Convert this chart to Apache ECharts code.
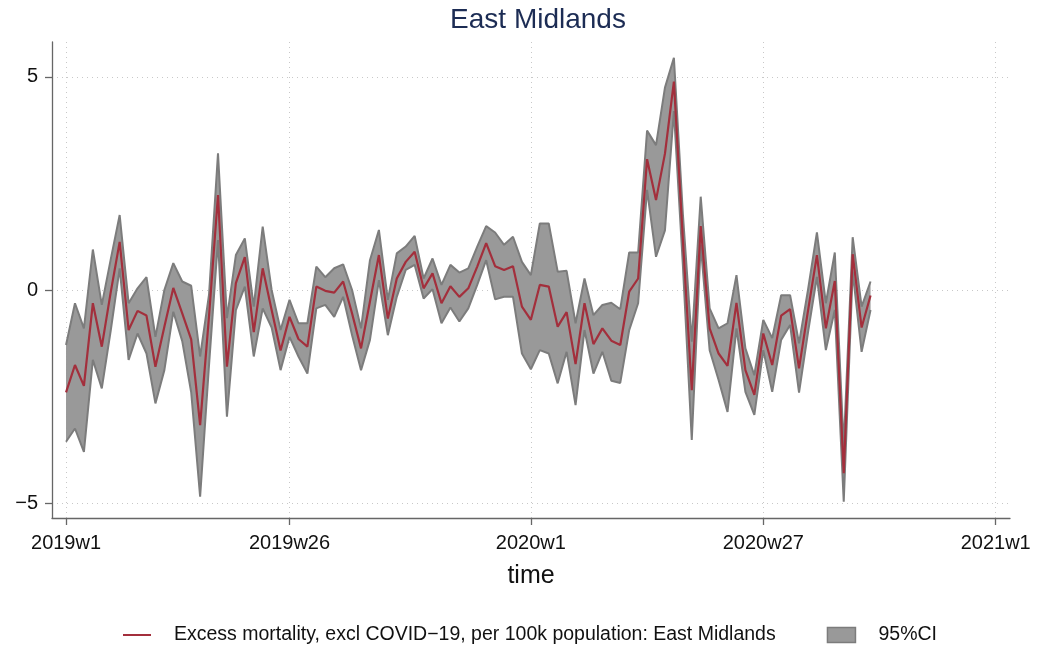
<!DOCTYPE html>
<html>
<head>
<meta charset="utf-8">
<script src="https://cdn.jsdelivr.net/npm/echarts@6/dist/echarts.min.js"></script>
<style>
html,body{margin:0;padding:0;background:#fff;}
#chart{width:1038px;height:646px;}
</style>
</head>
<body>
<div id="chart"></div>
<script>
// Week labels of the x axis (Stata weekly index: 0 = 2019w1, 52 weeks per year)
const tickWeeks = [0, 25, 52, 78, 104];
const tickLabels = ['2019w1', '2019w26', '2020w1', '2020w27', '2021w1'];
const yTicks = [-5, 0, 5];

// Excess mortality, excl COVID-19, per 100k population: East Midlands (2019w1 .. 2020w39)
const excess = [
  -2.40, -1.76, -2.25, -0.31, -1.33, -0.05, 1.13, -0.94, -0.49, -0.60,
  -1.80, -0.86, 0.05, -0.55, -1.16, -3.17, -0.60, 2.23, -1.80, 0.16,
  0.77, -0.99, 0.51, -0.47, -1.42, -0.63, -1.15, -1.33, 0.08, -0.02,
  -0.06, 0.20, -0.55, -1.37, -0.27, 0.82, -0.67, 0.27, 0.66, 0.90,
  0.04, 0.39, -0.31, 0.09, -0.16, 0.04, 0.55, 1.10, 0.56, 0.47,
  0.56, -0.39, -0.70, 0.12, 0.08, -0.86, -0.52, -1.74, -0.31, -1.27,
  -0.90, -1.19, -1.29, -0.04, 0.27, 3.07, 2.11, 3.20, 4.89, 1.20,
  -2.35, 1.50, -0.90, -1.49, -1.78, -0.30, -1.88, -2.46, -1.02, -1.76,
  -0.60, -0.45, -1.84, -0.49, 0.82, -0.90, 0.21, -4.30, 0.84, -0.88,
  -0.13
];
// 95% CI lower bound
const lower = [
  -3.56, -3.25, -3.80, -1.64, -2.31, -0.95, 0.51, -1.64, -1.02, -1.49,
  -2.66, -1.88, -0.51, -1.20, -2.40, -4.85, -1.75, 1.17, -2.97, -0.47,
  0.08, -1.56, -0.43, -0.88, -1.88, -1.10, -1.56, -1.96, -0.43, -0.35,
  -0.63, -0.16, -1.06, -1.88, -1.17, 0.23, -1.06, -0.16, 0.47, 0.59,
  -0.20, 0.02, -0.78, -0.41, -0.74, -0.43, 0.12, 0.70, -0.22, -0.16,
  -0.16, -1.49, -1.86, -1.41, -1.49, -2.19, -1.45, -2.70, -0.94, -1.96,
  -1.45, -2.13, -2.18, -0.94, -0.31, 2.35, 0.78, 1.40, 4.20, 0.60,
  -3.52, 1.06, -1.41, -2.11, -2.86, -0.90, -2.39, -2.93, -1.41, -2.39,
  -1.17, -0.82, -2.41, -1.00, 0.31, -1.41, -0.47, -4.97, 0.43, -1.45,
  -0.47
];
// 95% CI upper bound
const upper = [
  -1.29, -0.31, -0.90, 0.95, -0.35, 0.72, 1.76, -0.31, 0.04, 0.30,
  -1.10, 0.00, 0.63, 0.20, 0.10, -1.56, -0.10, 3.21, -0.66, 0.82,
  1.21, -0.39, 1.49, 0.00, -0.94, -0.23, -0.78, -0.78, 0.55, 0.30,
  0.51, 0.60, 0.00, -0.90, 0.70, 1.41, -0.23, 0.86, 1.02, 1.27,
  0.27, 0.74, 0.12, 0.59, 0.41, 0.51, 1.02, 1.50, 1.35, 1.06,
  1.25, 0.66, 0.35, 1.56, 1.56, 0.43, 0.45, -0.78, 0.27, -0.59,
  -0.35, -0.30, -0.45, 0.88, 0.88, 3.74, 3.40, 4.75, 5.45, 1.80,
  -1.21, 2.19, -0.43, -0.90, -0.78, 0.35, -1.37, -2.00, -0.70, -1.13,
  -0.12, -0.12, -1.25, 0.00, 1.35, -0.31, 0.88, -3.68, 1.24, -0.39,
  0.20
];

const lineName = 'Excess mortality, excl COVID\u221219, per 100k population: East Midlands';
const ciName = '95%CI';

const week = excess.map((_, i) => i);
const lineData = week.map(i => [i, excess[i]]);
const lowData = week.map(i => [i, lower[i]]);
const upData = week.map(i => [i, upper[i]]);
const bandData = week.map(i => [i, lower[i], upper[i]]);

const FONT = '"Liberation Sans", Arial, Helvetica, sans-serif';
const RED = '#a32f3c';
const FILL = '#999999';
const EDGE = '#7c7c7c';

const chart = echarts.init(document.getElementById('chart'), null, {renderer: 'canvas'});

function renderBand(params, api) {
  if (params.dataIndex !== 0) return null;
  const pts = [];
  for (let i = 0; i < bandData.length; i++) pts.push(api.coord([bandData[i][0], bandData[i][2]]));
  for (let i = bandData.length - 1; i >= 0; i--) pts.push(api.coord([bandData[i][0], bandData[i][1]]));
  return {
    type: 'polygon',
    shape: {points: pts},
    style: {fill: FILL, stroke: null}
  };
}

chart.setOption({
  backgroundColor: '#ffffff',
  animation: false,
  textStyle: {fontFamily: FONT},
  title: {
    text: 'East Midlands',
    left: 533, top: 1, textAlign: 'center',
    textStyle: {fontFamily: FONT, fontSize: 28, fontWeight: 'normal', color: '#1c2c54'}
  },
  grid: {left: 52, right: 28, top: 42, bottom: 128, containLabel: false},
  legend: {
    top: 620, left: 118,
    itemGap: 51, itemWidth: 28, itemHeight: 15,
    textStyle: {fontFamily: FONT, fontSize: 19.5, color: '#111', padding: [0, 0, 0, 18]},
    data: [
      {name: lineName, icon: 'path://M0,6.5L28,6.5L28,8.5L0,8.5Z', itemStyle: {color: RED}},
      {name: ciName, icon: 'rect', itemStyle: {color: FILL, borderColor: EDGE, borderWidth: 1.5}}
    ]
  },
  xAxis: {
    type: 'value', min: -1.57, max: 105.6,
    name: 'time', nameLocation: 'middle', nameGap: 46,
    nameTextStyle: {fontFamily: FONT, fontSize: 25, color: '#111'},
    axisLine: {show: true, onZero: false, lineStyle: {color: '#666', width: 1.3}},
    axisTick: {show: true, customValues: tickWeeks, length: 7, lineStyle: {color: '#666', width: 1.3}},
    axisLabel: {
      customValues: tickWeeks, margin: 15,
      fontFamily: FONT, fontSize: 20, color: '#111',
      formatter: v => tickLabels[tickWeeks.indexOf(Math.round(v))] || ''
    },
    splitLine: {show: true, lineStyle: {color: '#c8c8c8', type: [1, 4], width: 1}}
  },
  yAxis: {
    type: 'value', min: -5.35, max: 5.82,
    axisLine: {show: true, onZero: false, lineStyle: {color: '#666', width: 1.3}},
    axisTick: {show: true, customValues: yTicks, length: 7, lineStyle: {color: '#666', width: 1.3}},
    axisLabel: {
      customValues: yTicks, margin: 14,
      fontFamily: FONT, fontSize: 20, color: '#111',
      formatter: v => (v < 0 ? '\u2212' + Math.abs(v) : String(v))
    },
    splitLine: {show: true, lineStyle: {color: '#c8c8c8', type: [1, 4], width: 1}}
  },
  series: [
    {
      name: ciName, type: 'custom', data: bandData,
      encode: {x: 0, y: [1, 2]},
      renderItem: renderBand, silent: true, z: 1,
      itemStyle: {color: FILL, borderColor: EDGE}
    },
    {
      name: 'ciLower', type: 'line', data: lowData,
      symbol: 'none', silent: true, z: 2,
      lineStyle: {color: EDGE, width: 2},
      itemStyle: {color: EDGE}
    },
    {
      name: 'ciUpper', type: 'line', data: upData,
      symbol: 'none', silent: true, z: 2,
      lineStyle: {color: EDGE, width: 2},
      itemStyle: {color: EDGE}
    },
    {
      name: lineName, type: 'line', data: lineData,
      symbol: 'none', z: 3,
      lineStyle: {color: RED, width: 2.2},
      itemStyle: {color: RED}
    }
  ]
});
</script>
</body>
</html>
